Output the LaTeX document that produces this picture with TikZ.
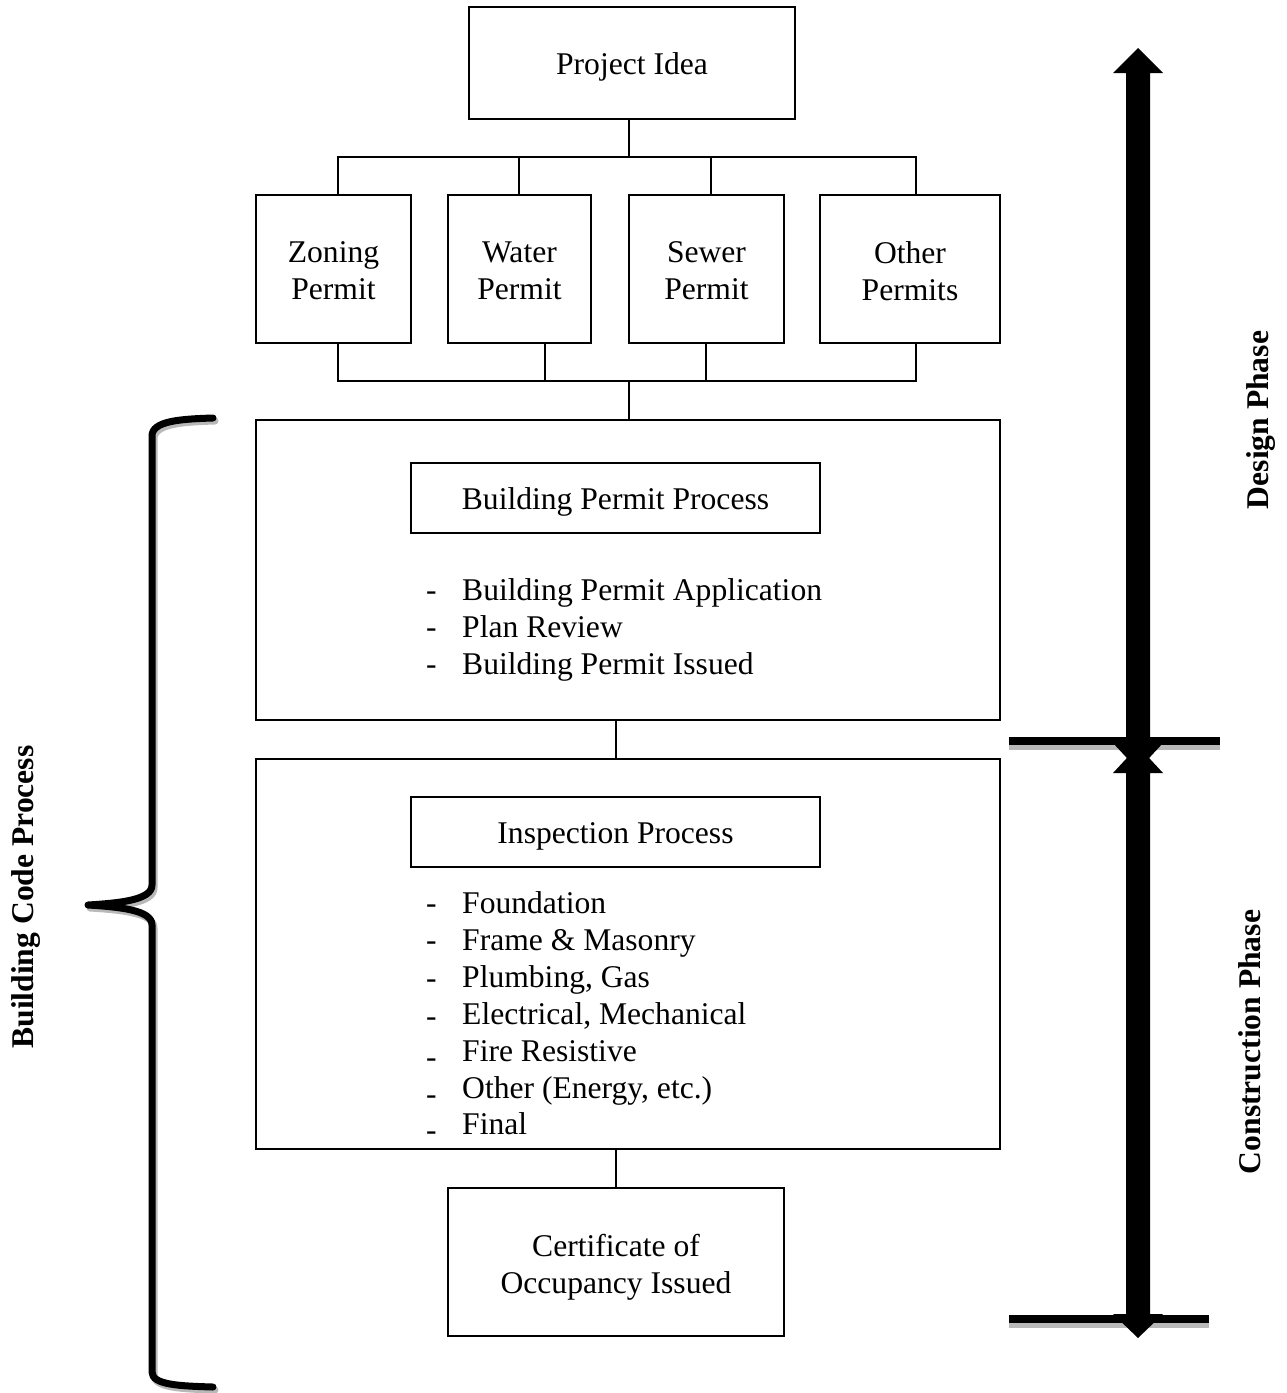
\documentclass[tikz,border=0pt]{standalone}
\usepackage{fontspec}
\setmainfont{Liberation Serif}
\begin{document}
\begin{tikzpicture}[x=1pt,y=-1pt,
  box/.style={draw,line width=2pt,inner sep=0pt},
  txt/.style={inner sep=0pt,align=center},
  conn/.style={line width=2pt},
  item/.style={anchor=base west,inner sep=0pt},
  lbl/.style={rotate=90,font=\fontsize{31.6}{37}\selectfont\bfseries},
  bracestyle/.style={line width=7pt,line cap=round,line join=round},
  font=\fontsize{31.6}{37}\selectfont]
\useasboundingbox (0,0) rectangle (1286,1393);
% boxes
\node[box,minimum width=326,minimum height=112] (pi) at (632,63) {};
\node[txt] (pit) at (632,67) {Project Idea};
\node[box,minimum width=155,minimum height=148] (zon) at (333.5,269) {};
\node[txt] (zont) at (333.5,271) {Zoning\\Permit};
\node[box,minimum width=143,minimum height=148] (wat) at (519.5,269) {};
\node[txt] (watt) at (519.5,271) {Water\\Permit};
\node[box,minimum width=155,minimum height=148] (sew) at (706.5,269) {};
\node[txt] (sewt) at (706.5,271) {Sewer\\Permit};
\node[box,minimum width=180,minimum height=148] (oth) at (910,269) {};
\node[txt] (otht) at (910,271) {Other\\Permits};
\node[box,minimum width=744,minimum height=300] (bpbox) at (628,570) {};
\node[box,minimum width=409,minimum height=70] (bpp) at (615.5,498) {};
\node[txt] (bppt) at (615.5,502) {Building Permit Process};
\node[box,minimum width=744,minimum height=390] (inbox) at (628,954) {};
\node[box,minimum width=409,minimum height=70] (ip) at (615.5,832) {};
\node[txt] (ipt) at (615.5,836) {Inspection Process};
\node[box,minimum width=336,minimum height=148] (cert) at (616,1262) {};
\node[txt] (certt) at (616,1267) {Certificate of\\Occupancy Issued};
% list items
\node[item] (b1) at (426,600) {\makebox[36pt][l]{-}Building Permit Application};
\node[item] (b2) at (426,637) {\makebox[36pt][l]{-}Plan Review};
\node[item] (b3) at (426,674) {\makebox[36pt][l]{-}Building Permit Issued};
\node[item] (i1) at (426,913) {\makebox[36pt][l]{-}Foundation};
\node[item] (i2) at (426,950) {\makebox[36pt][l]{-}Frame \& Masonry};
\node[item] (i3) at (426,987) {\makebox[36pt][l]{\raisebox{-1pt}{-}}Plumbing, Gas};
\node[item] (i4) at (426,1024) {\makebox[36pt][l]{\raisebox{-2pt}{-}}Electrical, Mechanical};
\node[item] (i5) at (426,1061) {\makebox[36pt][l]{\raisebox{-6pt}{-}}Fire Resistive};
\node[item] (i6) at (426,1098) {\makebox[36pt][l]{\raisebox{-6pt}{-}}Other (Energy, etc.)};
\node[item] (i7) at (426,1134) {\makebox[36pt][l]{\raisebox{-6pt}{-}}Final};
% junction coordinates
\coordinate (jt) at (629,157);
\coordinate (jb) at (629,381);
\coordinate (x338) at (338,0);
\coordinate (x519) at (519,0);
\coordinate (x545) at (545,0);
\coordinate (x706) at (706,0);
\coordinate (x711) at (711,0);
\coordinate (x916) at (916,0);
\coordinate (x616) at (616,0);
% top tree
\draw[conn] (pi.south -| jt) -- (jt);
\draw[conn] (zon.north -| x338) -- (jt -| x338) -- (jt -| x916) -- (oth.north -| x916);
\draw[conn] (wat.north -| x519) -- (jt -| x519);
\draw[conn] (sew.north -| x711) -- (jt -| x711);
% bottom tree
\draw[conn] (zon.south -| x338) -- (jb -| x338) -- (jb -| x916) -- (oth.south -| x916);
\draw[conn] (wat.south -| x545) -- (jb -| x545);
\draw[conn] (sew.south -| x706) -- (jb -| x706);
\draw[conn] (jb) -- (bpbox.north -| jb);
% vertical links
\draw[conn] (bpbox.south -| x616) -- (inbox.north -| x616);
\draw[conn] (inbox.south -| x616) -- (cert.north -| x616);
% right arrows and bars
\fill[gray!55] (1009,745) rectangle (1220,750);
\fill (1009,737) rectangle (1220,745);
\fill[gray!55] (1009,1323) rectangle (1209,1328);
\fill (1009,1315) rectangle (1209,1323);
\fill (1138,48) -- (1163,73) -- (1150,73) -- (1150,743) -- (1163,743) -- (1138,770)
  -- (1113,743) -- (1126,743) -- (1126,73) -- (1113,73) -- cycle;
\fill (1138,746) -- (1163,773) -- (1150,773) -- (1150,1314) -- (1163,1314) -- (1138,1338)
  -- (1113,1314) -- (1126,1314) -- (1126,773) -- (1113,773) -- cycle;
% phase labels
\node[lbl] (dp) at (1261,420) {Design Phase};
\node[lbl] (cp) at (1250,1042) {Construction Phase};
\node[lbl] (bcp) at (26,897) {Building Code Process};
% left brace
\draw[bracestyle,gray!55,shift={(2,3)}] (213,418) .. controls (180,419) and (152,421) .. (152,436) -- (152,885)
  .. controls (152,900) and (120,903) .. (88,905)
  .. controls (120,907) and (152,910) .. (152,925) -- (152,1372)
  .. controls (152,1385) and (180,1386) .. (213,1387);
\draw[bracestyle] (213,418) .. controls (180,419) and (152,421) .. (152,436) -- (152,885)
  .. controls (152,900) and (120,903) .. (88,905)
  .. controls (120,907) and (152,910) .. (152,925) -- (152,1372)
  .. controls (152,1385) and (180,1386) .. (213,1387);
\end{tikzpicture}
\end{document}
